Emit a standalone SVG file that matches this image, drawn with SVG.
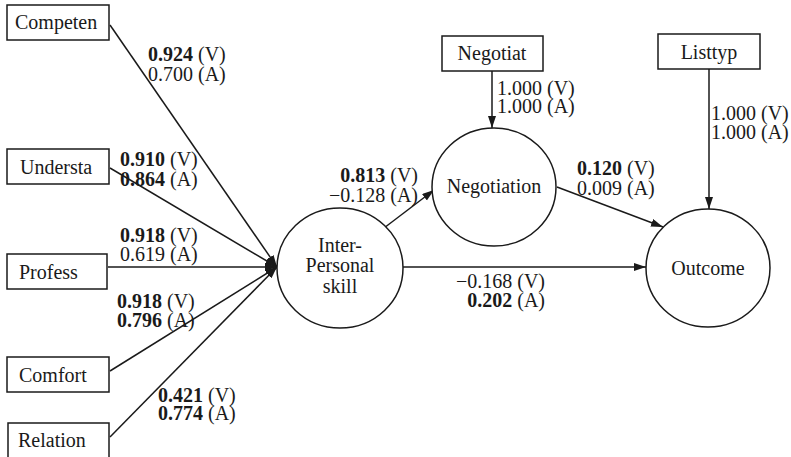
<svg xmlns="http://www.w3.org/2000/svg" width="791" height="457" viewBox="0 0 791 457">
<style>
text{font-family:"Times New Roman","Liberation Serif",Times,serif;font-size:20px;fill:#1a1a1a}
.b{font-weight:bold}
.m{text-anchor:middle}
.e{text-anchor:end}
.box,.node{fill:#fff;stroke:#1a1a1a;stroke-width:1.5}
.c line{stroke:#1a1a1a;stroke-width:1.5;marker-end:url(#ah)}
</style>
<defs>
<marker id="ah" markerUnits="userSpaceOnUse" markerWidth="13" markerHeight="9" refX="12" refY="4" orient="auto">
<path d="M0,0 L12,4 L0,8 z" fill="#1a1a1a"/>
</marker>
</defs>
<rect width="791" height="457" fill="#fff"/>
<g id="connectors" class="c">
<line x1="110" y1="25" x2="277" y2="267"/>
<line x1="110" y1="168" x2="277" y2="267"/>
<line x1="108" y1="267" x2="277" y2="267"/>
<line x1="110" y1="371" x2="277" y2="267"/>
<line x1="110" y1="437" x2="277" y2="267"/>
<line x1="384" y1="228" x2="434" y2="190"/>
<line x1="403" y1="267" x2="646" y2="267"/>
<line x1="557" y1="187" x2="663" y2="227"/>
<line x1="492" y1="71" x2="492" y2="128"/>
<line x1="709" y1="69" x2="709" y2="209"/>
</g>
<g id="competen"><rect class="box" x="7" y="5" width="102" height="35"/><text x="15" y="29">Competen</text></g>
<g id="understa"><rect class="box" x="7" y="149" width="102" height="35"/><text x="20" y="174">Understa</text></g>
<g id="profess"><rect class="box" x="7" y="254" width="100" height="35"/><text x="19" y="279">Profess</text></g>
<g id="comfort"><rect class="box" x="7" y="357" width="102" height="35"/><text x="19" y="382">Comfort</text></g>
<g id="relation"><rect class="box" x="8" y="423" width="101" height="40"/><text x="18" y="447">Relation</text></g>
<g id="negotiat"><rect class="box" x="442" y="36" width="101" height="35"/><text class="m" x="492" y="60">Negotiat</text></g>
<g id="listtyp"><rect class="box" x="658" y="34" width="102" height="35"/><text class="m" x="709" y="59">Listtyp</text></g>
<g id="interpersonal"><ellipse class="node" cx="340" cy="268" rx="63" ry="60"/><text class="m" x="340" y="252">Inter-</text><text class="m" x="340" y="272">Personal</text><text class="m" x="340" y="293">skill</text></g>
<g id="negotiation"><ellipse class="node" cx="494" cy="187" rx="62" ry="59"/><text class="m" x="494" y="193">Negotiation</text></g>
<g id="outcome"><ellipse class="node" cx="708" cy="268" rx="62" ry="59"/><text class="m" x="708" y="275">Outcome</text></g>
<g id="labels">
<text x="148" y="61"><tspan class="b">0.924</tspan> (V)</text>
<text x="148" y="81">0.700 (A)</text>
<text x="120" y="166"><tspan class="b">0.910</tspan> (V)</text>
<text x="120" y="186"><tspan class="b">0.864</tspan> (A)</text>
<text x="120" y="242"><tspan class="b">0.918</tspan> (V)</text>
<text x="120" y="261">0.619 (A)</text>
<text x="117" y="308"><tspan class="b">0.918</tspan> (V)</text>
<text x="117" y="327"><tspan class="b">0.796</tspan> (A)</text>
<text x="158" y="402"><tspan class="b">0.421</tspan> (V)</text>
<text x="158" y="420"><tspan class="b">0.774</tspan> (A)</text>
<text class="e" x="418" y="182"><tspan class="b">0.813</tspan> (V)</text>
<text class="e" x="418" y="202">−0.128 (A)</text>
<text class="e" x="545" y="288">−0.168 (V)</text>
<text class="e" x="545" y="307"><tspan class="b">0.202</tspan> (A)</text>
<text x="497" y="95">1.000 (V)</text>
<text x="497" y="113">1.000 (A)</text>
<text x="577" y="175"><tspan class="b">0.120</tspan> (V)</text>
<text x="577" y="195">0.009 (A)</text>
<text x="711" y="120">1.000 (V)</text>
<text x="711" y="139">1.000 (A)</text>
</g>
</svg>
